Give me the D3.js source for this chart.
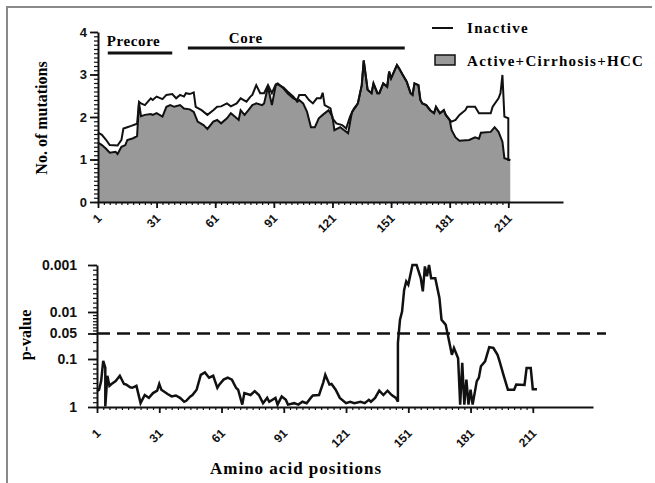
<!DOCTYPE html>
<html>
<head>
<meta charset="utf-8">
<script src="https://cdn.jsdelivr.net/npm/d3@7/dist/d3.min.js"></script>
<style>
body { margin:0; background:#fff; }
#graph { width:655px; height:483px; }
svg { display:block; }
.serif { font-family:"Liberation Serif","Times New Roman",serif; font-weight:bold; }
.axis text { font-family:"Liberation Sans",Arial,sans-serif; font-weight:bold; fill:#111; }
.axis path, .axis line { stroke:#111; }
</style>
</head>
<body>
<div id="graph"></div>
<script>
!(function(){
"use strict"

// [amino acid position, mean no. of mutations]
var inactive = [[1,1.63],[3,1.58],[5,1.47],[7,1.34],[11,1.33],[13,1.46],[14,1.73],[16,1.76],[18,1.79],[21,1.84],[22,2.36],[23,2.32],[25,2.28],[28,2.44],[29,2.40],[31,2.48],[34,2.42],[36,2.52],[39,2.54],[41,2.44],[43,2.52],[45,2.48],[46,2.56],[48,2.54],[50,2.58],[51,2.24],[54,2.16],[57,2.05],[60,2.16],[62,2.24],[64,2.25],[67,2.32],[69,2.25],[72,2.32],[74,2.44],[77,2.36],[79,2.48],[80,2.52],[82,2.75],[84,2.56],[86,2.56],[88,2.75],[90,2.56],[92,2.77],[93,2.79],[96,2.67],[98,2.56],[101,2.44],[103,2.40],[104,2.52],[107,2.52],[109,2.40],[111,2.32],[113,2.44],[115,2.44],[116,2.57],[117,2.28],[120,2.20],[121,1.97],[123,1.85],[126,1.81],[128,1.73],[130,2.01],[132,2.20],[134,2.32],[136,2.75],[137,3.33],[139,2.64],[141,2.56],[142,2.79],[144,2.56],[145,2.56],[147,2.79],[149,2.71],[150,3.07],[151,2.91],[154,3.22],[155,3.15],[157,2.99],[159,2.83],[161,2.56],[162,2.52],[163,2.79],[165,2.75],[166,2.40],[167,2.32],[169,2.28],[171,2.16],[173,2.09],[174,2.24],[176,2.09],[178,2.16],[179,2.05],[181,1.93],[182,1.89],[184,1.93],[186,2.05],[189,2.16],[190,2.24],[194,2.24],[196,2.09],[202,2.09],[203,2.24],[206,2.44],[207,2.56],[208,2.99],[209,2.01],[211,1.97],[211,0.99],[212,0.99]]
var active = [[1,1.40],[3,1.34],[5,1.26],[7,1.16],[10,1.18],[11,1.13],[13,1.30],[15,1.34],[16,1.46],[19,1.50],[21,1.55],[22,2.34],[23,2.02],[25,2.05],[28,2.07],[29,2.05],[31,2.09],[34,2.01],[36,2.24],[38,2.28],[40,2.24],[43,2.28],[45,2.20],[48,2.18],[50,2.12],[52,1.89],[55,1.81],[57,1.72],[60,1.89],[62,1.93],[64,1.85],[67,1.97],[69,2.09],[71,2.01],[73,1.93],[74,2.16],[76,2.05],[78,2.16],[80,2.28],[82,2.32],[85,2.28],[86,2.32],[88,2.71],[90,2.28],[92,2.75],[93,2.77],[96,2.69],[98,2.60],[101,2.48],[103,2.36],[104,2.40],[106,2.32],[108,2.12],[110,1.76],[112,1.76],[114,1.97],[116,2.05],[119,2.16],[121,2.01],[122,1.69],[125,1.76],[127,1.69],[129,1.62],[131,2.12],[133,2.24],[134,2.32],[136,2.75],[137,3.33],[139,2.64],[141,2.56],[142,2.79],[144,2.56],[145,2.56],[147,2.79],[149,2.71],[150,3.07],[151,2.91],[154,3.22],[155,3.15],[157,2.99],[159,2.83],[161,2.56],[162,2.52],[163,2.79],[165,2.75],[166,2.40],[167,2.32],[169,2.28],[171,2.16],[173,2.09],[174,2.24],[176,2.09],[178,2.16],[179,2.05],[181,1.93],[182,1.69],[184,1.52],[186,1.44],[191,1.46],[194,1.52],[196,1.49],[197,1.63],[202,1.65],[204,1.76],[206,1.65],[208,1.42],[209,1.03],[212,0.99]]

// [amino acid position, -log10(p)]
var pValues = [[1,0.33],[2,0.36],[3,0.54],[4,0.96],[5,0.82],[5,0.01],[6,0.65],[7,0.44],[8,0.48],[10,0.54],[12,0.65],[14,0.48],[15,0.47],[17,0.41],[18,0.40],[20,0.44],[22,0.08],[24,0.25],[26,0.19],[28,0.29],[30,0.34],[31,0.48],[32,0.36],[35,0.27],[37,0.22],[39,0.24],[41,0.19],[43,0.11],[44,0.13],[46,0.22],[47,0.25],[49,0.36],[51,0.67],[53,0.72],[55,0.61],[57,0.65],[59,0.40],[60,0.47],[62,0.57],[64,0.61],[66,0.57],[68,0.40],[69,0.36],[71,0.05],[72,0.29],[75,0.25],[77,0.33],[79,0.25],[81,0.08],[83,0.19],[84,0.11],[87,0.19],[88,0.05],[90,0.22],[92,0.15],[93,0.05],[96,0.08],[98,0.05],[100,0.11],[102,0.08],[104,0.19],[105,0.24],[108,0.25],[110,0.51],[111,0.67],[113,0.47],[114,0.48],[116,0.36],[118,0.19],[121,0.08],[123,0.11],[125,0.08],[128,0.11],[130,0.08],[132,0.15],[133,0.11],[135,0.19],[137,0.34],[139,0.25],[141,0.34],[143,0.25],[145,0.19],[146,0.11],[146,1.19],[147,1.75],[148,2.01],[149,2.47],[150,2.65],[151,2.58],[153,3.0],[155,3.0],[157,2.72],[158,2.44],[159,2.97],[160,2.76],[161,3.0],[162,2.72],[164,2.72],[166,2.30],[167,1.75],[169,1.59],[170,1.29],[172,1.05],[173,1.13],[175,1.01],[176,0.05],[177,0.92],[178,0.05],[179,0.57],[180,0.05],[181,0.36],[182,0.05],[184,0.54],[185,0.61],[186,0.85],[188,0.95],[190,1.14],[192,1.13],[194,1.05],[195,0.95],[197,0.65],[199,0.36],[202,0.36],[203,0.47],[207,0.46],[208,0.81],[210,0.81],[211,0.37],[213,0.37]]

var regions = [{label:"Precore", start:6, end:39}, {label:"Core", start:47, end:158}]
var positionTicks = d3.range(1, 212, 30)
var positionMinor = d3.range(1, 212, 3)
var mutationTicks = [0, 1, 2, 3, 4]
var mutationMinor = d3.range(0, 4.001, 0.1)
var pTicks = [1, 0.1, 0.05, 0.01, 0.001]
var pMinor = d3.range(0, 3.001, 0.1)
var threshold = 0.05
var legendLabels = ["Inactive", "Active+Cirrhosis+HCC"]

var greyFill = "#999999"
var width = 655, height = 483
var svg = d3.select("#graph").append("svg").attr("width", width).attr("height", height)

main()

function main() {
	drawFrame()
	drawTop()
	drawBottom()
	drawLegend()
}

function drawFrame() {
	svg.append("path")
		.attr("d", "M7,483 V7 H652")
		.attr("fill", "none")
		.attr("stroke", "#8a8a8a")
		.attr("stroke-width", 2)
}

function drawTop() {
	var x = d3.scaleLinear().domain([1, 239]).range([98, 563])
	var y = d3.scaleLinear().domain([0, 4]).range([202, 32])
	var g = svg.append("g")

	var area = d3.area()
		.x(function(d){ return x(d[0]) })
		.y0(y(0))
		.y1(function(d){ return y(d[1]) })
	var line = d3.line()
		.x(function(d){ return x(d[0]) })
		.y(function(d){ return y(d[1]) })

	g.append("path").datum(active)
		.attr("d", area).attr("fill", greyFill)
	g.append("path").datum(active)
		.attr("d", line).attr("fill", "none").attr("stroke", "#111").attr("stroke-width", 2)
	g.append("path").datum(inactive)
		.attr("d", line).attr("fill", "none").attr("stroke", "#111").attr("stroke-width", 2)

	// precore / core bars
	var labelDx = [0, 42]
	regions.forEach(function(r, i){
		g.append("line")
			.attr("x1", x(r.start)).attr("x2", x(r.end))
			.attr("y1", i == 0 ? 53 : 48).attr("y2", i == 0 ? 53 : 48)
			.attr("stroke", "#111").attr("stroke-width", 3)
		g.append("text").attr("class", "serif")
			.attr("x", x(r.start) + labelDx[i] - 1)
			.attr("y", i == 0 ? 46 : 43)
			.attr("font-size", 15)
			.attr("letter-spacing", 0.6)
			.text(r.label)
	})

	// axes
	var yMinor = g.append("g").attr("class", "axis").attr("transform", "translate(" + x(1) + ",0)")
		.call(d3.axisLeft(y).tickValues(mutationMinor).tickSize(4).tickFormat(""))
	yMinor.select(".domain").remove()
	yMinor.selectAll("line").attr("stroke-width", 1.2)
	var yAxis = g.append("g").attr("class", "axis").attr("transform", "translate(" + x(1) + ",0)")
		.call(d3.axisLeft(y).tickValues(mutationTicks).tickFormat(d3.format("d"))
			.tickSize(8).tickSizeOuter(0).tickPadding(3))
	yAxis.select(".domain").attr("stroke-width", 2)
	yAxis.selectAll("line").attr("stroke-width", 1.8)
	yAxis.selectAll("text").attr("font-size", 13)

	var xMinor = g.append("g").attr("class", "axis").attr("transform", "translate(0," + y(0) + ")")
		.call(d3.axisBottom(x).tickValues(positionMinor).tickSize(3).tickFormat(""))
	xMinor.select(".domain").remove()
	xMinor.selectAll("line").attr("stroke-width", 1.2)
	var xAxis = g.append("g").attr("class", "axis").attr("transform", "translate(0," + y(0) + ")")
		.call(d3.axisBottom(x).tickValues(positionTicks).tickSize(6).tickSizeOuter(0))
	xAxis.select(".domain").attr("stroke-width", 2)
	xAxis.selectAll("line").attr("stroke-width", 1.8)
	xAxis.selectAll("text")
		.attr("font-size", 12)
		.attr("y", 0).attr("dy", 0)
		.attr("text-anchor", "end")
		.attr("transform", "translate(4,17) rotate(-45)")

	svg.append("text").attr("class", "serif")
		.attr("transform", "translate(47,118) rotate(-90)")
		.attr("text-anchor", "middle")
		.attr("font-size", 16)
		.text("No. of mutations")
}

function drawBottom() {
	var x = d3.scaleLinear().domain([1, 240]).range([97, 593])
	// piecewise in -log10(p), matching the figure's tick placement
	var y = d3.scaleLinear()
		.domain(pTicks.map(function(p){ return -Math.log10(p) }))
		.range([407, 359, 333.5, 312, 265])
	var g = svg.append("g")

	var line = d3.line()
		.x(function(d){ return x(d[0]) })
		.y(function(d){ return y(Math.min(3, d[1])) })

	g.append("line")
		.attr("x1", x(1)).attr("x2", 606)
		.attr("y1", y(-Math.log10(threshold))).attr("y2", y(-Math.log10(threshold)))
		.attr("stroke", "#111").attr("stroke-width", 2.5)
		.attr("stroke-dasharray", "13,7")

	g.append("path").datum(pValues)
		.attr("d", line).attr("fill", "none")
		.attr("stroke", "#111").attr("stroke-width", 2.5)

	var yMinor = g.append("g").attr("class", "axis").attr("transform", "translate(" + x(1) + ",0)")
		.call(d3.axisLeft(y).tickValues(pMinor).tickSize(4).tickFormat(""))
	yMinor.select(".domain").remove()
	yMinor.selectAll("line").attr("stroke-width", 1.2)
	var yAxis = g.append("g").attr("class", "axis").attr("transform", "translate(" + x(1) + ",0)")
		.call(d3.axisLeft(y)
			.tickValues(pTicks.map(function(p){ return -Math.log10(p) }))
			.tickFormat(function(d, i){ return String(pTicks[i]) })
			.tickSize(9).tickSizeOuter(0).tickPadding(11))
	yAxis.select(".domain").attr("stroke-width", 2)
	yAxis.selectAll("line").attr("stroke-width", 1.8)
	yAxis.selectAll("text").attr("font-size", 14)

	var xMinor = g.append("g").attr("class", "axis").attr("transform", "translate(0," + y(0) + ")")
		.call(d3.axisBottom(x).tickValues(positionMinor).tickSize(3).tickFormat(""))
	xMinor.select(".domain").remove()
	xMinor.selectAll("line").attr("stroke-width", 1.2)
	var xAxis = g.append("g").attr("class", "axis").attr("transform", "translate(0," + y(0) + ")")
		.call(d3.axisBottom(x).tickValues(positionTicks).tickSize(6).tickSizeOuter(0))
	xAxis.select(".domain").attr("stroke-width", 2)
	xAxis.selectAll("line").attr("stroke-width", 1.8)
	xAxis.selectAll("text")
		.attr("font-size", 12)
		.attr("y", 0).attr("dy", 0)
		.attr("text-anchor", "end")
		.attr("transform", "translate(4,27) rotate(-45)")

	svg.append("text").attr("class", "serif")
		.attr("transform", "translate(31,335) rotate(-90)")
		.attr("text-anchor", "middle")
		.attr("font-size", 16)
		.text("p-value")

	svg.append("text").attr("class", "serif")
		.attr("x", 210).attr("y", 474)
		.attr("font-size", 17)
		.attr("letter-spacing", 1)
		.text("Amino acid positions")
}

function drawLegend() {
	var g = svg.append("g")
	g.append("line")
		.attr("x1", 432).attr("x2", 453).attr("y1", 28).attr("y2", 28)
		.attr("stroke", "#111").attr("stroke-width", 2)
	g.append("rect")
		.attr("x", 435).attr("y", 55).attr("width", 20).attr("height", 10)
		.attr("fill", greyFill).attr("stroke", "#111").attr("stroke-width", 1.5)
	g.selectAll("text.legend")
		.data(legendLabels)
		.enter().append("text")
		.attr("class", "serif legend")
		.attr("x", 467)
		.attr("y", function(d, i){ return i == 0 ? 33 : 66 })
		.attr("font-size", 15)
		.attr("letter-spacing", 1.3)
		.text(function(d){ return d })
}
}());
</script>
</body>
</html>
